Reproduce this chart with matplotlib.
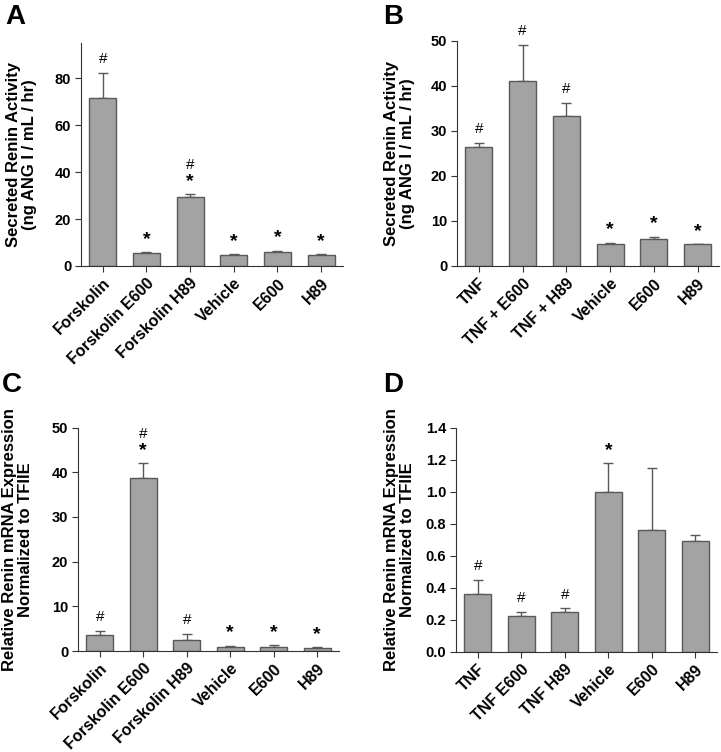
import matplotlib
matplotlib.use("Agg")
import matplotlib.pyplot as plt

plt.rcParams['font.family'] = ['Liberation Sans', 'DejaVu Sans']
plt.rcParams['font.weight'] = 'bold'

# panel A - secreted renin, forskolin
labelsA = ["Forskolin", "Forskolin E600", "Forskolin H89", "Vehicle", "E600", "H89"]
meanA = [71.5, 5.5, 29.5, 4.8, 6.0, 4.8]
errA = [10.7, 0.5, 1.1, 0.4, 0.5, 0.3]
marksA = ["#", "*", "#\n*", "*", "*", "*"]

# panel B - secreted renin, TNF
labelsB = ["TNF", "TNF + E600", "TNF + H89", "Vehicle", "E600", "H89"]
meanB = [26.3, 41.0, 33.3, 4.8, 6.0, 4.8]
errB = [0.9, 8.0, 2.9, 0.4, 0.5, 0.1]
marksB = ["#", "#", "#", "*", "*", "*"]

# panel C - renin mRNA, forskolin
labelsC = ["Forskolin", "Forskolin E600", "Forskolin H89", "Vehicle", "E600", "H89"]
meanC = [3.5, 38.7, 2.5, 1.0, 0.8, 0.7]
errC = [0.9, 3.3, 1.4, 0.2, 0.5, 0.1]
marksC = ["#", "#\n*", "#", "*", "*", "*"]

# panel D - renin mRNA, TNF
labelsD = ["TNF", "TNF E600", "TNF H89", "Vehicle", "E600", "H89"]
meanD = [0.36, 0.22, 0.25, 1.0, 0.76, 0.69]
errD = [0.09, 0.03, 0.02, 0.18, 0.39, 0.04]
marksD = ["#", "#", "#", "*", "", ""]

ylabelRenin = "Secreted Renin Activity\n(ng ANG I / mL / hr)"
ylabelMrna = "Relative Renin mRNA Expression\nNormalized to TFIIE"

fig = plt.figure(figsize=(7.21, 7.52), dpi=100)

panels = [
    ("A", [0.1123, 0.6463, 0.3634, 0.2965], labelsA, meanA, errA, marksA, 95, [0, 20, 40, 60, 80], ylabelRenin, -0.168, "{:.0f}"),
    ("B", [0.6338, 0.6463, 0.3640, 0.2996], labelsB, meanB, errB, marksB, 50, [0, 10, 20, 30, 40, 50], ylabelRenin, -0.159, "{:.0f}"),
    ("C", [0.1082, 0.1343, 0.3620, 0.2970], labelsC, meanC, errC, marksC, 50, [0, 10, 20, 30, 40, 50], ylabelMrna, -0.172, "{:.0f}"),
    ("D", [0.6325, 0.1334, 0.3620, 0.2979], labelsD, meanD, errD, marksD, 1.4, [0, 0.2, 0.4, 0.6, 0.8, 1.0, 1.2, 1.4], ylabelMrna, -0.157, "{:.1f}"),
]

for letter, rect, labels, mean, err, marks, ymax, yticks, ylabel, labx, fmt in panels:
    ax = fig.add_axes(rect)
    x = list(range(len(labels)))
    ax.bar(x, mean, width=0.62, color="#a3a3a3", edgecolor="#595959", linewidth=1.0, zorder=2)
    ax.errorbar(x, mean, yerr=[[0] * len(err), err], fmt="none", ecolor="#595959",
                elinewidth=1.0, capsize=3.5, capthick=1.0, zorder=1)
    for xi, m, e, mk in zip(x, mean, err, marks):
        if not mk:
            continue
        parts = mk.split("\n")
        off = 3
        for p in reversed(parts):
            if p == "*":
                ax.annotate("*", (xi, m + e), xytext=(0, off), textcoords="offset points",
                            ha="center", va="bottom", fontsize=14, fontweight="bold")
                off += 11
            else:
                ax.annotate("#", (xi, m + e), xytext=(0, off + 2), textcoords="offset points",
                            ha="center", va="bottom", fontsize=11, fontweight="normal")
                off += 13
    ax.set_xlim(-0.5, len(labels) - 0.5)
    ax.set_ylim(0, ymax)
    ax.set_yticks(yticks)
    ax.set_yticklabels([fmt.format(t) for t in yticks], fontsize=10.5, fontweight="bold")
    ax.set_xticks(x)
    ax.set_xticklabels(labels, rotation=45, ha="right", rotation_mode="anchor",
                       fontsize=11.5, fontweight="bold")
    ax.spines["top"].set_visible(False)
    ax.spines["right"].set_visible(False)
    ax.spines["left"].set_color("#333333")
    ax.spines["bottom"].set_color("#333333")
    ax.tick_params(axis="both", direction="out", length=4, width=0.8, color="#333333", pad=3)
    ax.set_ylabel(ylabel, fontsize=12, fontweight="bold", linespacing=1.1)
    ax.yaxis.set_label_coords(labx, 0.5)
    fig.text(rect[0] - 0.105 if letter in "AC" else 0.531, 0.995 if letter in "AB" else 0.505,
             letter, fontsize=20, fontweight="bold", va="top", ha="left")

plt.savefig("out.png", dpi=100)
